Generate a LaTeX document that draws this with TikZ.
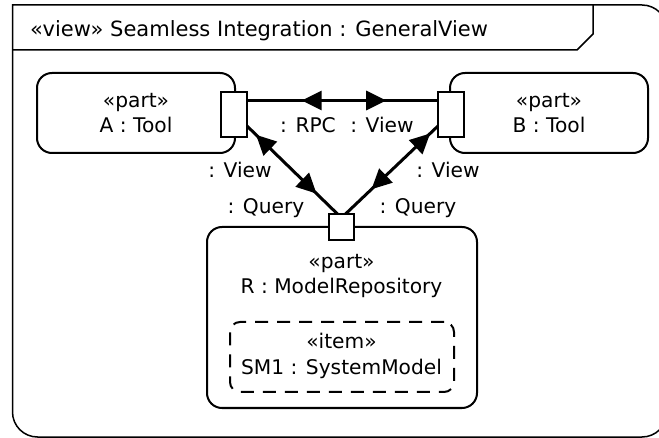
\documentclass[tikz,border=0pt]{standalone}
\usepackage{fontspec}
\setmainfont{DejaVu Sans}
\usetikzlibrary{arrows.meta,decorations.markings}
\tikzset{
  box/.style={draw, line width=2pt, rounded corners=15pt, inner sep=0pt, outer sep=0pt},
  portbox/.style={draw, fill=white, line width=2pt, inner sep=0pt, outer sep=0pt},
  itembox/.style={draw, line width=2pt, rounded corners=10pt, dash pattern=on 13pt off 9pt, inner sep=0pt, outer sep=0pt},
  txt/.style={anchor=base, inner sep=0pt},
  conn/.style={line width=3pt},
  bidir/.style 2 args={postaction={decorate}, decoration={markings,
      mark=at position #1 with {\arrowreversed{Triangle[length=20pt,width=19pt]}},
      mark=at position #2 with {\arrow{Triangle[length=20pt,width=19pt]}}}},
}
\begin{document}
\begin{tikzpicture}[x=1pt,y=-1pt,font=\fontsize{20.2}{25}\selectfont]
\useasboundingbox (0,0) rectangle (659,438);
\fill[white] (0,0) rectangle (659,438);
\clip (0,0) rectangle (659,438);
% frame (its right side lies beyond the picture's edge)
\draw[line width=1.5pt] (12.5,30) -- (12.5,5) -- (50,5) [rounded corners=25pt] -- (667,5) -- (667,437) -- (12.5,437) -- (12.5,30);
\draw[line width=1.5pt] (12.5,50) -- (577,50) -- (593,34) -- (593,5);
\node[anchor=base west, inner sep=0pt, font=\fontsize{21}{25}\selectfont] (title) at (30,36.7) {«view» Seamless Integration : GeneralView};
% parts
\node[box, minimum width=198pt, minimum height=80pt] (A) at (136,113) {};
\node[box, minimum width=198pt, minimum height=80pt] (B) at (549,113) {};
\node[box, minimum width=270pt, minimum height=181pt] (R) at (342,317.5) {};
\node[itembox, minimum width=224pt, minimum height=70pt] (SM1) at (342,357) {};
\node[txt] (At1) at (136,108) {«part»};
\node[txt] (At2) at (136,133) {A : Tool};
\node[txt] (Bt1) at (549,108) {«part»};
\node[txt] (Bt2) at (549,133) {B : Tool};
\node[txt] (Rt1) at (341.5,268.3) {«part»};
\node[txt] (Rt2) at (341.5,293.3) {R : ModelRepository};
\node[txt] (St1) at (341.5,349) {«item»};
\node[txt] (St2) at (341.5,375) {SM1 : SystemModel};
% ports
\node[portbox, minimum width=26pt, minimum height=45pt] (pA) at (234,114.5) {};
\node[portbox, minimum width=26pt, minimum height=45pt] (pB) at (451,114.5) {};
\node[portbox, minimum width=25pt, minimum height=26pt] (pR) at (341.5,227) {};
% connectors
\draw[conn, bidir={0.286}{0.729}] ([yshift=14pt]pA.east) -- ([yshift=14pt]pB.west);
\draw[conn, bidir={0.10}{0.77}] ([yshift=-11.5pt]pA.east) -- ([xshift=-4pt]pR.north);
\draw[conn, bidir={0.085}{0.72}] ([yshift=-11.5pt]pB.west) -- ([xshift=4pt]pR.north);
% ports on top of connector ends
\node[portbox, minimum width=26pt, minimum height=45pt] at (pA) {};
\node[portbox, minimum width=26pt, minimum height=45pt] at (pB) {};
\node[portbox, minimum width=25pt, minimum height=26pt] at (pR) {};
% connector labels
\node[txt] (l1) at (308,133) {: RPC};
\node[txt] (l2) at (382,133) {: View};
\node[txt] (l3) at (240,178) {: View};
\node[txt] (l4) at (266,213.5) {: Query};
\node[txt] (l5) at (448,178) {: View};
\node[txt] (l6) at (418,213.5) {: Query};
\end{tikzpicture}
\end{document}
